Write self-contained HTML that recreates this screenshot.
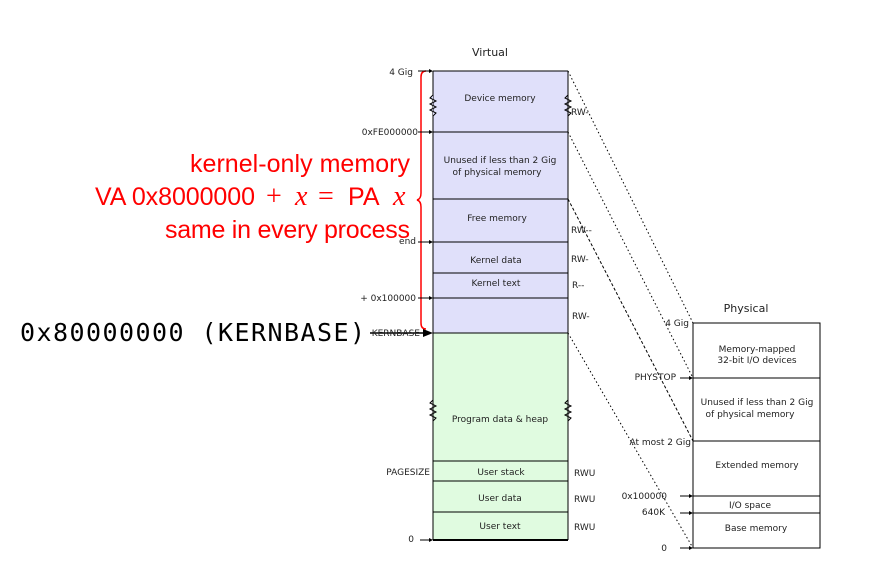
<!DOCTYPE html>
<html><head><style>body{margin:0;background:#fff}svg{display:block}</style></head><body>
<svg width="881" height="570" xmlns="http://www.w3.org/2000/svg" font-family="DejaVu Sans, sans-serif">
<rect x="433" y="71" width="135" height="262" fill="#e0e0fa"/>
<rect x="433" y="333" width="135" height="207" fill="#e0fbe0"/>
<g stroke="#000" stroke-width="1" fill="none">
<line x1="433" y1="71" x2="433" y2="540"/><line x1="568" y1="71" x2="568" y2="540"/>
<line x1="433" y1="71" x2="568" y2="71"/>
<line x1="433" y1="132" x2="568" y2="132"/><line x1="433" y1="199" x2="568" y2="199"/>
<line x1="433" y1="242" x2="568" y2="242"/><line x1="433" y1="273" x2="568" y2="273"/>
<line x1="433" y1="298" x2="568" y2="298"/><line x1="433" y1="333" x2="568" y2="333"/>
<line x1="433" y1="461" x2="568" y2="461"/><line x1="433" y1="481" x2="568" y2="481"/>
<line x1="433" y1="512" x2="568" y2="512"/><line x1="433" y1="540" x2="568" y2="540" stroke-width="2"/>
<rect x="693" y="323" width="127" height="225"/>
<line x1="693" y1="378" x2="820" y2="378"/><line x1="693" y1="441" x2="820" y2="441"/>
<line x1="693" y1="496" x2="820" y2="496"/><line x1="693" y1="513" x2="820" y2="513"/>
<g stroke-dasharray="1.5,2.5">
<line x1="568" y1="71" x2="693" y2="323"/><line x1="568" y1="132" x2="693" y2="378"/>
<line x1="568" y1="199" x2="693" y2="441" stroke-dasharray="3,2"/><line x1="568" y1="333" x2="693" y2="548"/>
</g>
<path d="M433 95 l-3 3 l6 3 l-6 3 l6 3 l-6 3 l6 3 l-3 3" fill="#e0e0fa"/>
<path d="M568 95 l-3 3 l6 3 l-6 3 l6 3 l-6 3 l6 3 l-3 3"/>
<path d="M433 400 l-3 3 l6 3 l-6 3 l6 3 l-6 3 l6 3 l-3 3"/>
<path d="M568 400 l-3 3 l6 3 l-6 3 l6 3 l-6 3 l6 3 l-3 3"/>
<path d="M426 71 q-5 0 -5 6 v116 q0 6 -4 7 q4 1 4 7 v116 q0 6 5 6" stroke="#f00" stroke-width="1.5"/>
<line x1="418" y1="71" x2="430" y2="71"/><line x1="418" y1="132" x2="430" y2="132"/>
<line x1="418" y1="242" x2="430" y2="242"/><line x1="418" y1="298" x2="430" y2="298"/>
<line x1="370" y1="333" x2="426" y2="333" stroke-width="1.5"/><line x1="420" y1="540" x2="430" y2="540"/>
<line x1="680" y1="378" x2="690" y2="378"/><line x1="680" y1="496" x2="690" y2="496"/>
<line x1="680" y1="513" x2="690" y2="513"/><line x1="680" y1="548" x2="690" y2="548"/>
</g>
<g fill="#000">
<path d="M433 71 l-4 -2 v4z"/><path d="M433 132 l-4 -2 v4z"/><path d="M433 242 l-4 -2 v4z"/><path d="M433 298 l-4 -2 v4z"/>
<path d="M433 333 l-10 -4 v8z"/><path d="M433 540 l-4 -2 v4z"/>
<path d="M693 378 l-4 -2 v4z"/><path d="M693 496 l-4 -2 v4z"/><path d="M693 513 l-4 -2 v4z"/><path d="M693 548 l-4 -2 v4z"/>
</g>
<g font-size="9" fill="#222" text-anchor="middle">
<text x="500" y="101">Device memory</text>
<text x="500" y="163">Unused if less than 2 Gig</text><text x="497" y="175">of physical memory</text>
<text x="497" y="221">Free memory</text><text x="496" y="263">Kernel data</text><text x="496" y="286">Kernel text</text>
<text x="500" y="422">Program data &amp; heap</text><text x="501" y="475">User stack</text>
<text x="500" y="501">User data</text><text x="500" y="529">User text</text>
<text x="757" y="352">Memory-mapped</text><text x="757" y="363">32-bit I/O devices</text>
<text x="757" y="405">Unused if less than 2 Gig</text><text x="750" y="417">of physical memory</text>
<text x="757" y="468">Extended memory</text><text x="750" y="508">I/O space</text><text x="756" y="531">Base memory</text>
<text x="490" y="56" font-size="11">Virtual</text><text x="746" y="312" font-size="11">Physical</text>
</g>
<g font-size="9" fill="#222" text-anchor="end">
<text x="413" y="75">4 Gig</text><text x="418" y="135">0xFE000000</text><text x="416" y="244">end</text>
<text x="416" y="301">+ 0x100000</text><text x="420" y="336">KERNBASE</text><text x="430" y="475">PAGESIZE</text><text x="414" y="542">0</text>
<text x="689" y="326">4 Gig</text><text x="676" y="380">PHYSTOP</text><text x="691" y="445">At most 2 Gig</text>
<text x="667" y="499">0x100000</text><text x="665" y="515">640K</text><text x="667" y="551">0</text>
</g>
<g font-size="9" fill="#222">
<text x="571" y="115">RW-</text><text x="571" y="233">RW--</text><text x="571" y="262">RW-</text>
<text x="572" y="288">R--</text><text x="572" y="319">RW-</text>
<text x="574" y="476">RWU</text><text x="574" y="502">RWU</text><text x="574" y="530">RWU</text>
</g>
<g fill="#f00" font-family="Liberation Sans, sans-serif" font-size="25">
<text x="410" y="172" text-anchor="end" textLength="220">kernel-only memory</text>
<text x="95" y="205" textLength="160">VA 0x8000000</text>
<text x="266" y="205" font-family="Liberation Serif" font-size="28">+</text>
<text x="295" y="205" font-family="Liberation Serif" font-style="italic" font-size="28">x</text>
<text x="318" y="205" font-family="Liberation Serif" font-size="28">=</text>
<text x="348" y="205">PA</text>
<text x="393" y="205" font-family="Liberation Serif" font-style="italic" font-size="28">x</text>
<text x="410" y="238" text-anchor="end" textLength="245">same in every process</text>
</g>
<text x="20" y="341" font-family="DejaVu Sans Mono, monospace" font-size="25" fill="#000" textLength="345">0x80000000 (KERNBASE)</text>
</svg>
</body></html>
